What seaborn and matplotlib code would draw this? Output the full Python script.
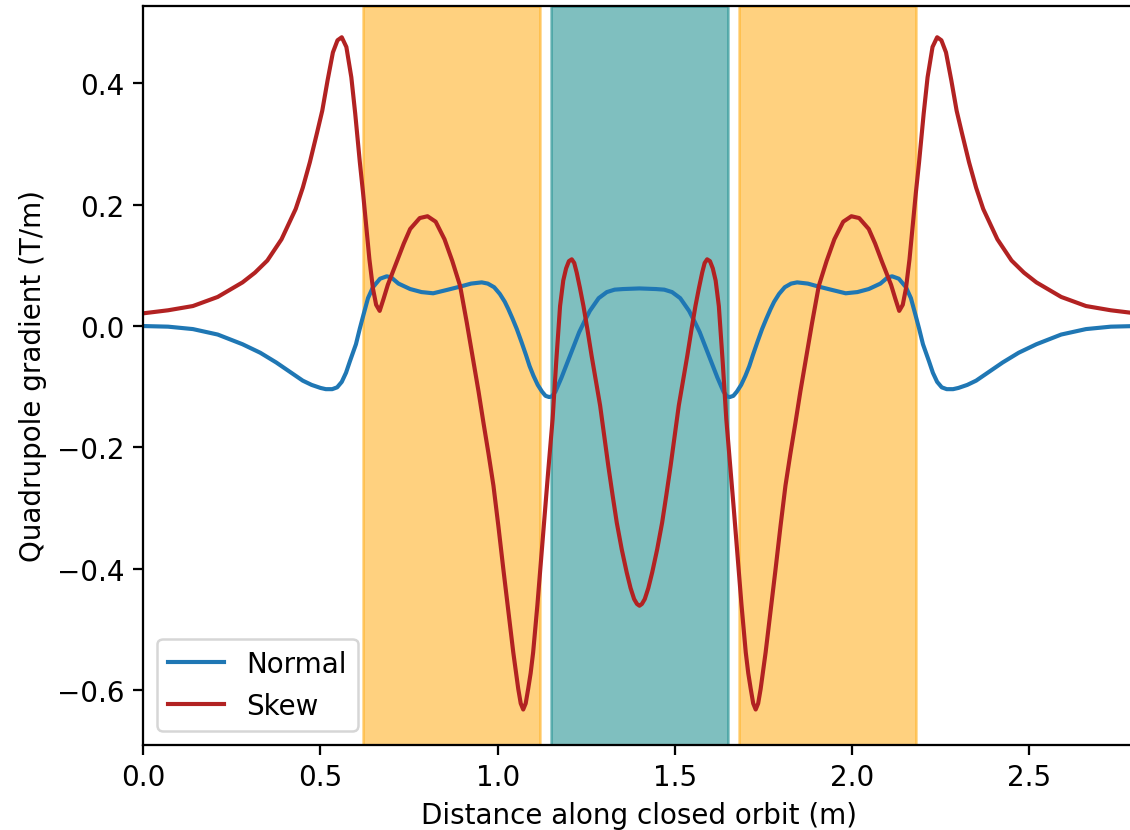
import matplotlib
matplotlib.use("Agg")
import matplotlib.pyplot as plt
import seaborn as sns
import pandas as pd

# Skew gradient (T/m)
skew_x = [0.00, 0.07, 0.14, 0.21, 0.28, 0.315, 0.35, 0.39, 0.43, 0.45, 0.47, 0.49, 0.505, 0.52,
          0.535, 0.548, 0.56, 0.573, 0.587, 0.598, 0.611, 0.62, 0.629, 0.638, 0.648, 0.657,
          0.667, 0.678, 0.69, 0.70, 0.715, 0.735, 0.753, 0.78, 0.802, 0.825, 0.85, 0.872,
          0.894, 0.913, 0.932, 0.946, 0.96, 0.974, 0.988, 1.002, 1.016, 1.03, 1.044, 1.058,
          1.065, 1.072, 1.079, 1.086, 1.093, 1.10, 1.112, 1.124, 1.134, 1.143, 1.155, 1.165,
          1.176, 1.185, 1.193, 1.201, 1.209, 1.216, 1.223, 1.232, 1.242, 1.253, 1.265, 1.277,
          1.289, 1.30, 1.312, 1.324, 1.336, 1.35, 1.364, 1.375, 1.385, 1.393, 1.40,
          1.407, 1.415, 1.425, 1.436, 1.45, 1.464, 1.476, 1.488, 1.50, 1.511, 1.523, 1.535,
          1.547, 1.558, 1.568, 1.577, 1.584, 1.591, 1.599, 1.607, 1.615, 1.624, 1.635, 1.645,
          1.657, 1.666, 1.676, 1.688, 1.70, 1.707, 1.714, 1.721, 1.728, 1.735, 1.742, 1.756,
          1.77, 1.784, 1.798, 1.812, 1.826, 1.84, 1.854, 1.868, 1.887, 1.906, 1.928, 1.95,
          1.975, 1.998, 2.02, 2.047, 2.065, 2.085, 2.10, 2.11, 2.122, 2.133, 2.143, 2.152,
          2.162, 2.171, 2.18, 2.189, 2.202, 2.213, 2.227, 2.24, 2.252, 2.265, 2.28, 2.295,
          2.31, 2.33, 2.35, 2.37, 2.41, 2.45, 2.485, 2.52, 2.59, 2.66, 2.73, 2.80]
skew_y = [0.021, 0.026, 0.033, 0.048, 0.072, 0.088, 0.108, 0.143, 0.193, 0.228, 0.270, 0.318, 0.355, 0.405,
          0.451, 0.471, 0.476, 0.460, 0.410, 0.350, 0.270, 0.220, 0.165, 0.110, 0.062, 0.035,
          0.025, 0.045, 0.068, 0.083, 0.105, 0.136, 0.160, 0.178, 0.181, 0.172, 0.143, 0.107,
          0.066, 0.005, -0.060, -0.108, -0.160, -0.210, -0.263, -0.330, -0.401, -0.470, -0.538, -0.598,
          -0.622, -0.632, -0.622, -0.598, -0.572, -0.538, -0.460, -0.373, -0.300, -0.236, -0.153, -0.060,
          0.033, 0.075, 0.095, 0.107, 0.110, 0.104, 0.088, 0.063, 0.033, -0.005, -0.049, -0.090,
          -0.131, -0.178, -0.230, -0.278, -0.324, -0.368, -0.406, -0.432, -0.450, -0.458, -0.461,
          -0.458, -0.450, -0.432, -0.406, -0.368, -0.324, -0.278, -0.230, -0.178, -0.131, -0.090, -0.049,
          -0.005, 0.033, 0.063, 0.088, 0.104, 0.110, 0.107, 0.095, 0.075, 0.033, -0.060, -0.153,
          -0.236, -0.300, -0.373, -0.460, -0.538, -0.572, -0.598, -0.622, -0.632, -0.622, -0.598, -0.538,
          -0.470, -0.401, -0.330, -0.263, -0.210, -0.160, -0.108, -0.060, 0.005, 0.066, 0.107, 0.143,
          0.172, 0.181, 0.178, 0.160, 0.136, 0.105, 0.083, 0.068, 0.045, 0.025, 0.035, 0.062,
          0.110, 0.165, 0.220, 0.270, 0.350, 0.410, 0.460, 0.476, 0.471, 0.451, 0.405, 0.355,
          0.318, 0.270, 0.228, 0.193, 0.143, 0.108, 0.088, 0.072, 0.048, 0.033, 0.026, 0.021]

# Normal gradient (T/m)
normal_x = [0.00, 0.07, 0.14, 0.21, 0.28, 0.33, 0.375, 0.41, 0.45, 0.475, 0.50, 0.515, 0.533,
            0.547, 0.56, 0.572, 0.583, 0.60, 0.611, 0.621, 0.634, 0.648, 0.668, 0.687, 0.70,
            0.72, 0.753, 0.785, 0.818, 0.86, 0.894, 0.925, 0.955, 0.972, 0.99, 1.006, 1.02,
            1.03, 1.042, 1.054, 1.067, 1.08, 1.09, 1.101, 1.113, 1.125, 1.135, 1.145, 1.153,
            1.163, 1.18, 1.204, 1.23, 1.245, 1.26, 1.285, 1.308, 1.33, 1.354, 1.40,
            1.446, 1.47, 1.492, 1.515, 1.54, 1.555, 1.57, 1.596, 1.62, 1.637, 1.647, 1.655,
            1.665, 1.675, 1.687, 1.699, 1.71, 1.72, 1.733, 1.746, 1.758, 1.77, 1.78, 1.794,
            1.81, 1.828, 1.845, 1.875, 1.906, 1.94, 1.982, 2.015, 2.047, 2.08, 2.10, 2.113,
            2.132, 2.152, 2.166, 2.179, 2.189, 2.20, 2.217, 2.228, 2.24, 2.253, 2.267, 2.285,
            2.30, 2.325, 2.35, 2.39, 2.425, 2.47, 2.52, 2.59, 2.66, 2.73, 2.80]
normal_y = [0.000, -0.001, -0.005, -0.014, -0.030, -0.044, -0.060, -0.074, -0.090, -0.097, -0.102, -0.104, -0.104,
            -0.101, -0.092, -0.077, -0.058, -0.030, -0.004, 0.018, 0.046, 0.064, 0.078, 0.082, 0.080,
            0.070, 0.061, 0.056, 0.054, 0.060, 0.065, 0.070, 0.072, 0.070, 0.064, 0.053, 0.040,
            0.028, 0.012, -0.005, -0.026, -0.048, -0.066, -0.082, -0.097, -0.108, -0.115, -0.117, -0.116,
            -0.108, -0.085, -0.049, -0.010, 0.008, 0.025, 0.046, 0.056, 0.060, 0.061, 0.062,
            0.061, 0.060, 0.056, 0.046, 0.025, 0.008, -0.010, -0.049, -0.085, -0.108, -0.116, -0.117,
            -0.115, -0.108, -0.097, -0.082, -0.066, -0.048, -0.026, -0.005, 0.012, 0.028, 0.040, 0.053,
            0.064, 0.070, 0.072, 0.070, 0.065, 0.060, 0.054, 0.056, 0.061, 0.070, 0.080, 0.082,
            0.078, 0.064, 0.046, 0.018, -0.004, -0.030, -0.058, -0.077, -0.092, -0.101, -0.104, -0.104,
            -0.102, -0.097, -0.090, -0.074, -0.060, -0.044, -0.030, -0.014, -0.005, -0.001, 0.000]

# Shaded element regions (m)
span_starts = [0.62, 1.15, 1.68]
span_ends = [1.12, 1.65, 2.18]
span_colors = ["orange", "teal", "orange"]

x_ticks = [0.0, 0.5, 1.0, 1.5, 2.0, 2.5]
y_ticks = [-0.6, -0.4, -0.2, 0.0, 0.2, 0.4]

plt.rcParams["font.size"] = 11.1
plt.rcParams["axes.linewidth"] = 0.9
plt.rcParams["xtick.major.size"] = 3.9
plt.rcParams["ytick.major.size"] = 3.9
plt.rcParams["xtick.major.width"] = 0.9
plt.rcParams["ytick.major.width"] = 0.9

fig = plt.figure(figsize=(1130 / 180, 831 / 180), dpi=180)
ax = fig.add_axes([143.3 / 1130, 1 - 745.7 / 831, (1135.6 - 143.3) / 1130, (745.7 - 6.7) / 831])

for s, e, c in zip(span_starts, span_ends, span_colors):
    ax.axvspan(s, e, color=c, alpha=0.5)

df_n = pd.DataFrame({"x": normal_x, "y": normal_y})
df_s = pd.DataFrame({"x": skew_x, "y": skew_y})
sns.lineplot(data=df_n, x="x", y="y", color="#1f77b4", label="Normal", ax=ax,
             estimator=None, linewidth=1.65)
sns.lineplot(data=df_s, x="x", y="y", color="firebrick", label="Skew", ax=ax,
             estimator=None, linewidth=1.65)

ax.set_xlim(0, 2.8)
ax.set_ylim(-0.690, 0.528)
ax.set_xticks(x_ticks)
ax.set_yticks(y_ticks)
ax.set_xlabel("Distance along closed orbit (m)")
ax.set_ylabel("Quadrupole gradient (T/m)")
ax.legend(loc="lower left")

fig.savefig("out.png", dpi=180)
